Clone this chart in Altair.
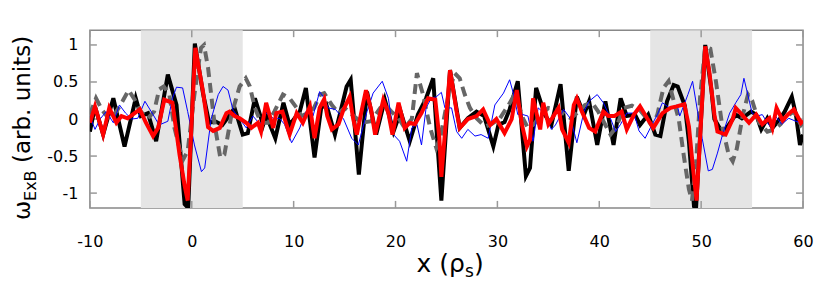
import altair as alt
import pandas as pd

# ---------------- data ----------------
shade_start = [-5, 45]
shade_end = [5, 55]
x_ticks = [-10, 0, 10, 20, 30, 40, 50, 60]
y_ticks = [-1, -0.5, 0, 0.5, 1]

black_x = [-10.0, -9.5, -8.7, -7.7, -6.6, -5.5, -5.0, -4.3, -3.5, -2.35, -1.5, -0.7, -0.35, 0.3,
           1.1, 1.7, 2.3, 3.0, 3.7, 4.2, 5.0, 5.5, 6.2, 7.0, 7.3, 8.2, 9.0, 9.6, 10.1, 10.6, 11.2,
           12.05, 12.7, 13.2, 14.05, 15.2, 15.6, 16.4, 17.2, 18.1, 18.95, 19.8, 20.5, 21.4, 22.2,
           23.0, 23.7, 24.1, 24.5, 25.35, 26.3, 27.1, 27.95, 28.7, 29.6, 30.1, 30.7, 31.2, 32.0,
           32.8, 33.2, 33.8, 34.65, 35.3, 36.2, 37.0, 37.8, 38.5, 39.0, 39.8, 40.6, 41.4, 42.1,
           42.7, 43.5, 44.0, 44.8, 45.5, 46.0, 46.65, 47.3, 47.7, 48.4, 48.8, 49.3, 49.5, 50.4,
           51.0, 51.3, 52.1, 52.7, 53.4, 54.0, 54.9, 55.4, 55.9, 56.5, 57.0, 57.6, 58.2, 58.9,
           59.3, 59.7, 60.0]
black_y = [-0.17, 0.17, -0.21, 0.28, -0.37, 0.28, 0.04, 0.08, -0.30, 0.60, 0.19, -1.15, -1.2, 1.02,
           0.35, -0.05, -0.03, -0.08, 0.05, 0.15, -0.21, -0.19, 0.28, -0.08, 0.05, -0.26, 0.22, -0.08,
           0.01, 0.10, 0.42, -0.52, 0.15, 0.20, -0.21, 0.44, 0.53, -0.75, 0.37, -0.21, 0.26, -0.17,
           0.10, -0.30, 0.06, 0.28, 0.55, -0.30, -1.10, 0.66, -0.12, 0.01, 0.10, 0.04, -0.37, -0.08,
           -0.04, 0.13, 0.51, -0.77, -0.66, 0.42, 0.06, -0.08, 0.47, -0.70, 0.30, 0.06, 0.24, -0.35,
           0.24, -0.35, 0.28, 0.04, 0.06, -0.08, 0.06, -0.21, -0.23, 0.24, 0.46, 0.44, 0.18, -0.30,
           -1.18, -1.2, 1.00, 0.40, 0.0, -0.19, -0.08, 0.06, 0.01, 0.10, 0.06, -0.14, 0.01, -0.12,
           -0.02, 0.10, 0.30, 0.06, -0.35, -0.21]

red_x = [-10.0, -9.5, -8.7, -8.1, -7.4, -6.9, -6.3, -5.6, -5.1, -4.5, -3.8, -3.3, -2.7, -1.9, -1.2,
         -0.7, -0.4, 0.35, 1.1, 1.6, 2.1, 2.75, 3.4, 3.7, 4.2, 4.7, 5.35, 5.85, 6.5, 6.8, 7.3, 8.0,
         8.3, 8.9, 9.6, 10.3, 10.9, 11.6, 12.05, 12.55, 13.0, 13.3, 13.75, 14.4, 14.9, 15.5, 15.85,
         16.2, 16.7, 17.1, 17.6, 18.0, 18.8, 19.3, 19.7, 20.3, 20.9, 21.4, 21.9, 22.55, 23.2, 23.9,
         24.3, 24.5, 25.35, 26.0, 26.3, 27.1, 27.95, 28.6, 29.3, 29.9, 30.7, 31.4, 31.9, 32.4, 32.9,
         33.2, 33.5, 34.2, 34.5, 35.0, 35.5, 36.0, 36.35, 37.0, 37.5, 37.8, 38.3, 39.0, 39.6, 40.4,
         40.9, 41.5, 42.2, 42.7, 43.4, 44.0, 44.7, 45.3, 46.2, 47.0, 47.6, 48.35, 48.8, 49.2, 49.55,
         50.4, 50.8, 51.3, 51.6, 52.4, 53.1, 53.4, 54.0, 54.7, 55.4, 56.0, 56.7, 57.0, 57.4, 58.0,
         58.5, 59.1, 59.8, 60.0]
red_y = [-0.05, 0.17, -0.21, 0.15, -0.05, 0.04, 0.01, 0.08, 0.13, -0.05, -0.23, -0.12, 0.26, 0.22,
         -0.48, -0.90, -1.10, 0.96, 0.37, -0.11, -0.16, -0.12, 0.08, 0.10, 0.04, 0.01, -0.05, -0.12,
         -0.05, -0.17, 0.22, -0.12, 0.08, 0.10, -0.21, 0.08, -0.05, 0.17, -0.26, 0.15, 0.27, 0.04,
         -0.14, -0.07, 0.13, 0.30, 0.0, -0.21, 0.13, 0.39, 0.13, -0.21, 0.26, 0.08, -0.21, 0.22,
         -0.12, -0.05, -0.07, 0.08, 0.28, 0.26, -0.25, -0.78, 0.66, 0.10, -0.12, 0.0, 0.04, 0.13,
         -0.08, 0.0, -0.19, 0.0, 0.39, -0.07, -0.37, -0.28, 0.28, -0.14, 0.22, -0.07, 0.04, 0.15,
         -0.14, -0.32, 0.19, 0.28, 0.10, -0.12, -0.17, 0.10, 0.04, 0.04, 0.10, -0.14, 0.06, 0.17,
         0.01, -0.12, 0.08, 0.15, 0.17, 0.20, -0.10, -0.66, -1.10, 0.98, 0.64, 0.06, -0.17, -0.21,
         0.0, 0.15, 0.06, -0.05, 0.06, -0.07, 0.01, -0.12, 0.15, -0.02, 0.06, 0.13, -0.05, -0.02]

blue_x = [-10.0, -9.5, -9.0, -8.4, -7.7, -7.1, -6.5, -5.9, -5.3, -4.6, -3.8, -3.2, -2.35, -1.9, -1.5,
          -0.9, -0.4, 0.26, 0.95, 1.27, 1.9, 2.6, 3.07, 3.56, 4.05, 4.6, 5.35, 6.0, 6.7, 7.3, 8.0,
          8.6, 9.1, 9.8, 10.6, 11.2, 11.9, 12.55, 12.9, 13.4, 14.1, 14.9, 15.7, 16.35, 17.2, 17.8,
          18.7, 19.3, 19.8, 20.4, 21.1, 21.6, 22.1, 22.55, 23.0, 23.5, 24.0, 24.5, 24.85, 25.5,
          26.0, 26.5, 27.1, 27.8, 28.4, 29.1, 29.75, 30.6, 31.2, 31.6, 32.0, 32.5, 33.0, 33.5, 34.0,
          34.6, 35.3, 35.7, 36.5, 37.2, 37.8, 38.5, 39.0, 39.8, 40.4, 41.1, 41.6, 42.1, 42.7, 43.4,
          43.9, 44.5, 45.2, 45.7, 46.2, 46.9, 47.65, 47.9, 48.7, 49.16, 49.65, 50.1, 50.7, 51.1,
          51.6, 52.1, 52.8, 53.4, 53.9, 54.2, 54.7, 55.0, 55.5, 56.0, 56.5, 56.9, 57.3, 57.9, 58.6,
          59.3, 60.0]
blue_y = [0.04, -0.14, 0.0, 0.10, -0.05, 0.19, 0.08, 0.0, 0.01, 0.24, 0.06, -0.08, -0.03, 0.28, 0.43,
          0.42, 0.10, -0.35, -0.71, -0.66, 0.0, 0.33, 0.44, 0.39, 0.12, 0.02, -0.12, 0.04, -0.07, 0.08,
          0.01, 0.01, -0.07, -0.32, -0.12, 0.10, 0.04, 0.37, 0.30, 0.15, 0.13, 0.0, -0.26, -0.35, 0.10,
          0.35, 0.51, 0.28, -0.21, -0.30, -0.57, -0.12, -0.07, -0.35, 0.15, 0.28, 0.30, 0.36, 0.15,
          0.15, -0.17, -0.26, -0.14, -0.23, -0.21, -0.26, 0.19, 0.35, 0.53, 0.33, 0.06, 0.06, 0.04,
          -0.30, 0.15, 0.08, -0.14, -0.08, 0.13, 0.0, -0.32, 0.10, 0.24, 0.33, 0.22, 0.01, -0.17,
          -0.07, 0.08, 0.08, -0.16, -0.26, -0.07, 0.06, 0.22, 0.15, 0.19, 0.04, 0.33, 0.51, 0.10,
          -0.26, -0.70, -0.68, -0.46, -0.21, 0.08, 0.22, 0.33, 0.55, 0.26, 0.08, 0.04, 0.06, -0.05,
          -0.12, 0.04, -0.07, 0.01, -0.03, -0.05]

gray_x = [-10.0, -9.4, -8.8, -8.1, -7.4, -6.8, -6.2, -5.6, -5.0, -4.3, -3.7, -3.2, -2.75, -2.2, -1.7,
          -0.9, -0.4, 0.26, 0.9, 1.2, 1.6, 2.25, 2.8, 3.2, 3.9, 4.7, 5.3, 5.7, 6.2, 6.8, 7.5, 8.1,
          8.95, 9.6, 10.3, 10.75, 11.4, 12.0, 12.6, 13.0, 13.75, 14.4, 15.0, 15.9, 16.7, 17.6, 18.5,
          19.0, 19.6, 20.3, 20.9, 21.6, 22.1, 22.7, 23.4, 24.0, 24.4, 25.2, 25.8, 26.3, 26.8, 27.3,
          27.95, 28.8, 29.4, 30.25, 31.1, 31.55, 32.0, 32.5, 33.0, 33.6, 34.3, 35.0, 35.7, 36.4,
          37.2, 38.0, 38.6, 39.3, 39.9, 40.6, 41.1, 41.7, 42.4, 43.2, 44.0, 44.7, 45.2, 45.7, 46.3,
          46.8, 47.3, 47.8, 48.3, 48.8, 49.1, 49.5, 49.9, 50.4, 50.9, 51.45, 52.1, 52.7, 53.1, 53.5,
          54.1, 54.6, 55.0, 55.7, 56.5, 57.2, 57.8, 58.4, 59.1, 59.8, 60.0]
gray_y = [0.06, 0.28, 0.12, 0.0, 0.10, 0.24, 0.39, 0.26, 0.10, 0.01, 0.10, 0.40, 0.44, 0.33, -0.12,
          -0.56, -0.43, 0.33, 0.96, 1.00, 0.69, -0.08, -0.52, -0.48, 0.06, 0.44, 0.55, 0.44, 0.15,
          -0.05, -0.05, 0.10, 0.33, 0.28, 0.15, 0.04, 0.08, 0.15, 0.33, 0.35, 0.19, 0.08, 0.15, 0.04,
          -0.05, -0.03, 0.15, 0.19, 0.10, 0.01, -0.12, 0.0, 0.62, 0.33, -0.12, -0.39, -0.25, 0.33,
          0.62, 0.55, 0.33, 0.15, 0.01, -0.10, -0.07, 0.01, 0.19, 0.30, 0.22, 0.01, -0.12, -0.07,
          0.06, 0.15, 0.13, 0.08, 0.01, 0.10, 0.19, 0.22, 0.10, -0.08, -0.21, -0.10, 0.15, 0.18,
          0.12, 0.0, -0.10, 0.06, 0.42, 0.51, 0.25, 0.0, -0.50, -0.95, -1.10, -0.60, 0.30, 0.98,
          0.95, 0.51, -0.12, -0.48, -0.57, -0.40, 0.06, 0.33, 0.25, -0.05, -0.17, -0.14, -0.07,
          0.04, 0.10, -0.08, -0.05]

# ---------------- chart ----------------
W, H = 714, 178
FONT = "DejaVu Sans"

xscale = alt.Scale(domain=[-10, 60], nice=False, zero=False)
yscale = alt.Scale(domain=[-1.2, 1.2], nice=False, zero=False)

xaxis = alt.Axis(values=x_ticks, labelExpr="toString(datum.value)", title=None, domain=False,
                 ticks=False, tickSize=0, grid=False, labelFont=FONT, labelFontSize=16,
                 labelColor="black", labelPadding=26, labelFlush=False)
yaxis = alt.Axis(values=y_ticks, labelExpr="toString(datum.value)", title=None, domain=False,
                 ticks=False, tickSize=0, grid=False, labelFont=FONT, labelFontSize=16,
                 labelColor="black", labelPadding=12, labelFlush=False)

shade = alt.Chart(pd.DataFrame({"x0": shade_start, "x1": shade_end})).mark_rect(
    color="#e5e5e5").encode(
    x=alt.X("x0:Q", scale=xscale, axis=xaxis), x2="x1:Q",
    y=alt.value(0), y2=alt.value(H))

xt = pd.DataFrame({"t": x_ticks})
yt = pd.DataFrame({"t": y_ticks})
tick_style = dict(color="#999999", strokeWidth=1.5)
xt_top = alt.Chart(xt).mark_rule(**tick_style).encode(
    x=alt.X("t:Q", scale=xscale, axis=xaxis), y=alt.value(0), y2=alt.value(7))
xt_bot = alt.Chart(xt).mark_rule(**tick_style).encode(
    x=alt.X("t:Q", scale=xscale, axis=xaxis), y=alt.value(H - 7), y2=alt.value(H))
yt_left = alt.Chart(yt).mark_rule(**tick_style).encode(
    y=alt.Y("t:Q", scale=yscale, axis=yaxis), x=alt.value(0), x2=alt.value(7))
yt_right = alt.Chart(yt).mark_rule(**tick_style).encode(
    y=alt.Y("t:Q", scale=yscale, axis=yaxis), x=alt.value(W - 7), x2=alt.value(W))


def series(xs, ys, **style):
    return alt.Chart(pd.DataFrame({"x": xs, "y": ys})).mark_line(clip=True, **style).encode(
        x=alt.X("x:Q", scale=xscale, axis=xaxis),
        y=alt.Y("y:Q", scale=yscale, axis=yaxis))


black = series(black_x, black_y, color="black", strokeWidth=4, strokeJoin="miter")
gray = series(gray_x, gray_y, color="#666666", strokeWidth=4, strokeDash=[10, 6])
blue = series(blue_x, blue_y, color="#0000ff", strokeWidth=1)
red = series(red_x, red_y, color="#ff0000", strokeWidth=4, strokeJoin="miter")

one = pd.DataFrame({"k": [0]})


def label(text, px, py, size, angle=0):
    return alt.Chart(one).mark_text(text=text, align="left", baseline="alphabetic", font=FONT,
                                    fontSize=size, angle=angle, color="black").encode(
        x=alt.value(px), y=alt.value(py))


titles = [
    label("x (ρ", 327, 242, 25),
    label("s", 375.5, 247, 17),
    label(")", 384.5, 242, 25),
    label("ω", -60, 190, 23, 270),
    label("ExB", -54, 171, 16, 270),
    label("(arb. units)", -60, 133, 23, 270),
]

chart = alt.layer(shade, xt_top, xt_bot, yt_left, yt_right, black, gray, blue, red, *titles).properties(
    width=W, height=H,
    autosize=alt.AutoSizeParams(type="none"),
    padding={"left": 82, "top": 22, "right": 20, "bottom": 74},
).configure_view(stroke="#888888", strokeWidth=1.5)

chart.save("out.html", embed_options={"renderer": "svg", "actions": False})
